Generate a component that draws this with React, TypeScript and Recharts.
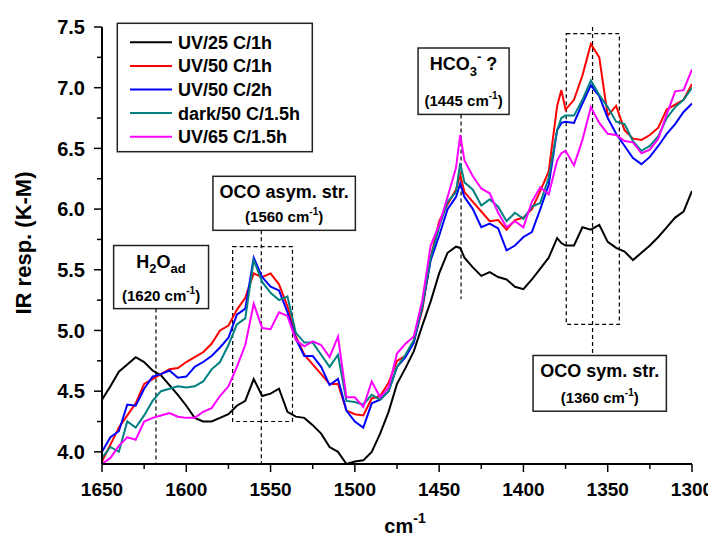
import { LineChart, Line, XAxis, YAxis, ReferenceArea, ReferenceLine } from 'recharts'

const FONT = '"Liberation Sans", Arial, Helvetica, sans-serif'

// wavenumber grid (cm-1), descending
const wavenumbers = [
  1650, 1645, 1640, 1635, 1630, 1625, 1620, 1615, 1610, 1605, 1600, 1595, 1590, 1585, 1580, 1575,
  1570, 1565, 1560, 1555, 1550, 1545, 1540, 1535, 1530, 1525, 1520, 1515, 1510, 1505, 1500, 1495,
  1490, 1485, 1480, 1475, 1470, 1465, 1460, 1455, 1450, 1445, 1440, 1437.5, 1435, 1430, 1425, 1420,
  1415, 1410, 1405, 1400, 1395, 1390, 1385, 1380, 1377.5, 1375, 1370, 1365, 1360, 1355, 1350, 1345,
  1340, 1335, 1330, 1325, 1320, 1315, 1310, 1305, 1300,
]

const uv25_1h = [
  4.43, 4.54, 4.66, 4.72, 4.78, 4.74, 4.67, 4.63, 4.55, 4.47, 4.38, 4.28, 4.25, 4.25, 4.28, 4.31,
  4.38, 4.42, 4.6, 4.46, 4.48, 4.52, 4.33, 4.29, 4.28, 4.22, 4.15, 4.04, 4.0, 3.9, 3.92, 3.93,
  4.0, 4.15, 4.33, 4.56, 4.69, 4.83, 5.04, 5.24, 5.47, 5.64, 5.69, 5.68, 5.6, 5.52, 5.45, 5.48,
  5.44, 5.42, 5.36, 5.34, 5.42, 5.51, 5.6, 5.76, 5.72, 5.7, 5.7, 5.85, 5.83, 5.87, 5.73, 5.68,
  5.65, 5.58, 5.64, 5.7, 5.77, 5.85, 5.93, 5.98, 6.15,
]

const uv50_1h = [
  3.92, 4.06, 4.2, 4.3, 4.4, 4.56, 4.6, 4.64, 4.68, 4.69, 4.74, 4.78, 4.82, 4.89, 5.0, 5.04,
  5.17, 5.27, 5.47, 5.44, 5.47, 5.38, 5.2, 4.95, 4.8, 4.72, 4.64, 4.56, 4.56, 4.34, 4.31, 4.3,
  4.44, 4.46, 4.57, 4.75, 4.79, 4.92, 5.17, 5.6, 5.9, 6.04, 6.16, 6.28, 6.14, 6.06, 5.98, 5.9,
  5.91, 5.83, 5.91, 5.93, 6.0, 6.15, 6.31, 6.85, 6.98, 6.82, 6.9, 7.1, 7.36, 7.25, 6.77, 6.85,
  6.65, 6.58, 6.57, 6.61, 6.67, 6.82, 6.86, 6.9, 7.03,
]

const uv50_2h = [
  4.0, 4.12, 4.17, 4.39, 4.38, 4.52, 4.62, 4.64, 4.67, 4.61, 4.62, 4.7, 4.74, 4.79, 4.86, 4.94,
  5.13, 5.18, 5.6, 5.44, 5.36, 5.33, 5.15, 4.93, 4.79, 4.79, 4.7, 4.55, 4.6, 4.34, 4.25, 4.2,
  4.4, 4.43, 4.5, 4.7, 4.78, 4.9, 5.2, 5.58, 5.78, 6.0, 6.1, 6.21, 6.1, 6.0, 5.85, 5.88,
  5.84, 5.66, 5.7, 5.77, 5.81, 6.0, 6.2, 6.65, 6.71, 6.72, 6.71, 6.87, 7.02, 6.93, 6.75, 6.62,
  6.52, 6.42, 6.37, 6.43, 6.52, 6.62, 6.7, 6.8, 6.87,
]

const dark50_15h = [
  3.95, 4.04, 4.0, 4.25, 4.2, 4.3, 4.42, 4.5, 4.52, 4.54, 4.53, 4.54, 4.58, 4.68, 4.74, 4.88,
  5.05, 5.1, 5.58, 5.4, 5.31, 5.25, 5.28, 4.98, 4.9, 4.9, 4.8, 4.7, 4.8, 4.42, 4.41, 4.39,
  4.47, 4.43, 4.5, 4.7, 4.8, 4.92, 5.2, 5.6, 5.85, 6.06, 6.14, 6.38, 6.22, 6.16, 6.03, 6.08,
  6.02, 5.9, 5.97, 5.92, 6.02, 6.05, 6.26, 6.65, 6.75, 6.77, 6.77, 6.9, 7.06, 6.94, 6.84, 6.72,
  6.7, 6.56, 6.48, 6.52, 6.6, 6.75, 6.84, 6.9, 7.0,
]

const uv65_15h = [
  3.9, 3.95, 4.05, 4.12, 4.1, 4.25, 4.28, 4.3, 4.32, 4.29, 4.28, 4.28, 4.33, 4.36, 4.46, 4.54,
  4.7, 4.88, 5.22, 5.02, 5.01, 5.15, 5.12, 4.92, 4.87, 4.91, 4.88, 4.78, 4.95, 4.45, 4.45, 4.37,
  4.58, 4.45, 4.53, 4.81, 4.89, 4.95, 5.25, 5.7, 5.87, 6.1, 6.34, 6.61, 6.4, 6.27, 6.17, 6.13,
  5.97, 5.85, 5.9, 5.85, 6.06, 6.18, 6.12, 6.4, 6.46, 6.48, 6.36, 6.57, 6.84, 6.71, 6.62, 6.61,
  6.56, 6.55, 6.46, 6.49, 6.58, 6.78, 6.97, 6.98, 7.15,
]

const series = [
  { key: 'uv25_1h', name: 'UV/25 C/1h', color: '#000000', values: uv25_1h },
  { key: 'uv50_1h', name: 'UV/50 C/1h', color: '#ff0000', values: uv50_1h },
  { key: 'uv50_2h', name: 'UV/50 C/2h', color: '#0000ff', values: uv50_2h },
  { key: 'dark50_15h', name: 'dark/50 C/1.5h', color: '#008080', values: dark50_15h },
  { key: 'uv65_15h', name: 'UV/65 C/1.5h', color: '#ff00ff', values: uv65_15h },
]

const xMajor = [1650, 1600, 1550, 1500, 1450, 1400, 1350, 1300]
const xMinor = [1625, 1575, 1525, 1475, 1425, 1375, 1325]
const yMajor = [4.0, 4.5, 5.0, 5.5, 6.0, 6.5, 7.0, 7.5]
const yMinor = [4.25, 4.75, 5.25, 5.75, 6.25, 6.75, 7.25]

const rows = wavenumbers.map((wn, i) => {
  const row: Record<string, number> = { wn }
  series.forEach(s => { row[s.key] = s.values[i] })
  return row
})

function XTick(props: any) {
  const { x, y, payload } = props
  const major = xMajor.includes(payload.value)
  return (
    <g>
      <line x1={x} x2={x} y1={y} y2={y + (major ? 8 : 5)} stroke="#000" strokeWidth={1.5} />
      {major && (
        <text x={x} y={y + 32} textAnchor="middle" fontFamily={FONT} fontWeight="bold" fontSize={19} fill="#000">
          {payload.value}
        </text>
      )}
    </g>
  )
}

function YTick(props: any) {
  const { x, y, payload } = props
  const major = yMajor.includes(payload.value)
  return (
    <g>
      <line x1={x - (major ? 8 : 5)} x2={x} y1={y} y2={y} stroke="#000" strokeWidth={1.5} />
      {major && (
        <text x={x - 17} y={y} dy="0.36em" textAnchor="end" fontFamily={FONT} fontWeight="bold" fontSize={20} fill="#000">
          {payload.value.toFixed(1)}
        </text>
      )}
    </g>
  )
}

// annotation box: bold title plus a smaller wavenumber line
function noteShape(title: React.ReactNode, sub: string) {
  return (props: any) => {
    const { x, y, width, height } = props
    const cx = x + width / 2
    return (
      <g>
        <rect x={x} y={y} width={width} height={height} fill="#fff" stroke="#222" strokeWidth={1.5} />
        <text x={cx} y={y + 22} textAnchor="middle" fontFamily={FONT} fontWeight="bold" fontSize={18} fill="#000">
          {title}
        </text>
        <text x={cx} y={y + height - 8} textAnchor="middle" fontFamily={FONT} fontWeight="bold" fontSize={15} fill="#000">
          ({sub} cm<tspan fontSize={10} dy={-7}>-1</tspan><tspan dy={7}>)</tspan>
        </text>
      </g>
    )
  }
}

const h2oTitle = (
  <>
    H<tspan fontSize={13} dy={5}>2</tspan><tspan dy={-5}>O</tspan><tspan fontSize={13} dy={5}>ad</tspan>
  </>
)
const hco3Title = (
  <>
    HCO<tspan fontSize={13} dy={6}>3</tspan><tspan fontSize={13} dy={-15}>-</tspan><tspan dy={9}> ?</tspan>
  </>
)

const dash = { stroke: '#000', strokeWidth: 1.2, strokeDasharray: '4 3' }

export default function App() {
  return (
    <div style={{ position: 'relative', width: 708, height: 529 }}>
      <LineChart width={708} height={529} data={rows} margin={{ top: 19, right: 24, bottom: 33, left: 34 }}>
        <XAxis
          dataKey="wn"
          type="number"
          domain={[1300, 1650]}
          reversed
          allowDataOverflow
          ticks={[...xMajor, ...xMinor].sort((a, b) => a - b)}
          interval={0}
          tick={<XTick />}
          tickSize={0}
          tickMargin={0}
          tickLine={false}
          axisLine={{ stroke: '#000', strokeWidth: 2 }}
          height={40}
        />
        <YAxis
          type="number"
          domain={[3.9, 7.5]}
          allowDataOverflow
          ticks={[...yMajor, ...yMinor].sort((a, b) => a - b)}
          interval={0}
          tick={<YTick />}
          tickSize={0}
          tickMargin={0}
          tickLine={false}
          axisLine={{ stroke: '#000', strokeWidth: 2 }}
          width={60}
        />

        <ReferenceArea x1={1572.5} x2={1537} y1={4.25} y2={5.69} fill="none" {...dash} ifOverflow="visible" />
        <ReferenceArea x1={1374.6} x2={1343.1} y1={5.05} y2={7.445} fill="none" {...dash} ifOverflow="visible" />
        <ReferenceLine segment={[{ x: 1618, y: 5.18 }, { x: 1618, y: 3.9 }]} {...dash} ifOverflow="visible" />
        <ReferenceLine segment={[{ x: 1555.5, y: 5.825 }, { x: 1555.5, y: 3.9 }]} {...dash} ifOverflow="visible" />
        <ReferenceLine segment={[{ x: 1437, y: 6.78 }, { x: 1437, y: 5.26 }]} {...dash} ifOverflow="visible" />
        <ReferenceLine segment={[{ x: 1359, y: 7.5 }, { x: 1359, y: 4.79 }]} {...dash} ifOverflow="visible" />

        <ReferenceArea x1={1643.1} x2={1586.8} y1={5.18} y2={5.7} shape={noteShape(h2oTitle, '1620')} ifOverflow="visible" />
        <ReferenceArea x1={1584.2} x2={1499.7} y1={5.825} y2={6.27} shape={noteShape('OCO asym. str.', '1560')} ifOverflow="visible" />
        <ReferenceArea x1={1462.5} x2={1408.5} y1={6.78} y2={7.327} shape={noteShape(hco3Title, '1445')} ifOverflow="visible" />
        <ReferenceArea x1={1394.3} x2={1315.2} y1={4.335} y2={4.794} shape={noteShape('OCO sym. str.', '1360')} ifOverflow="visible" />

        {series.map(s => (
          <Line
            key={s.key}
            dataKey={s.key}
            name={s.name}
            stroke={s.color}
            strokeWidth={2}
            dot={false}
            type="linear"
            isAnimationActive={false}
          />
        ))}
      </LineChart>

      <svg width={708} height={529} style={{ position: 'absolute', left: 0, top: 0, pointerEvents: 'none' }}>
        <text
          x={23}
          y={235}
          transform="rotate(-90 23 235)"
          textAnchor="middle"
          fontFamily={FONT}
          fontWeight="bold"
          fontSize={22}
          fill="#000"
        >
          IR resp. (K-M)
        </text>
        <text x={397} y={525} textAnchor="middle" fontFamily={FONT} fontWeight="bold" fontSize={20} fill="#000">
          cm<tspan fontSize={14} dy={-10}>-1</tspan>
        </text>

        <rect x={109.3} y={15.3} width={195} height={128.4} fill="#fff" stroke="#222" strokeWidth={1.5} />
        {series.map((s, i) => {
          const cy = 34.3 + i * 23.6
          return (
            <g key={s.key}>
              <line x1={122} x2={164} y1={cy} y2={cy} stroke={s.color} strokeWidth={2} />
              <text x={170} y={cy} dy="0.36em" fontFamily={FONT} fontWeight="bold" fontSize={18} fill="#000">
                {s.name}
              </text>
            </g>
          )
        })}
      </svg>
    </div>
  )
}
